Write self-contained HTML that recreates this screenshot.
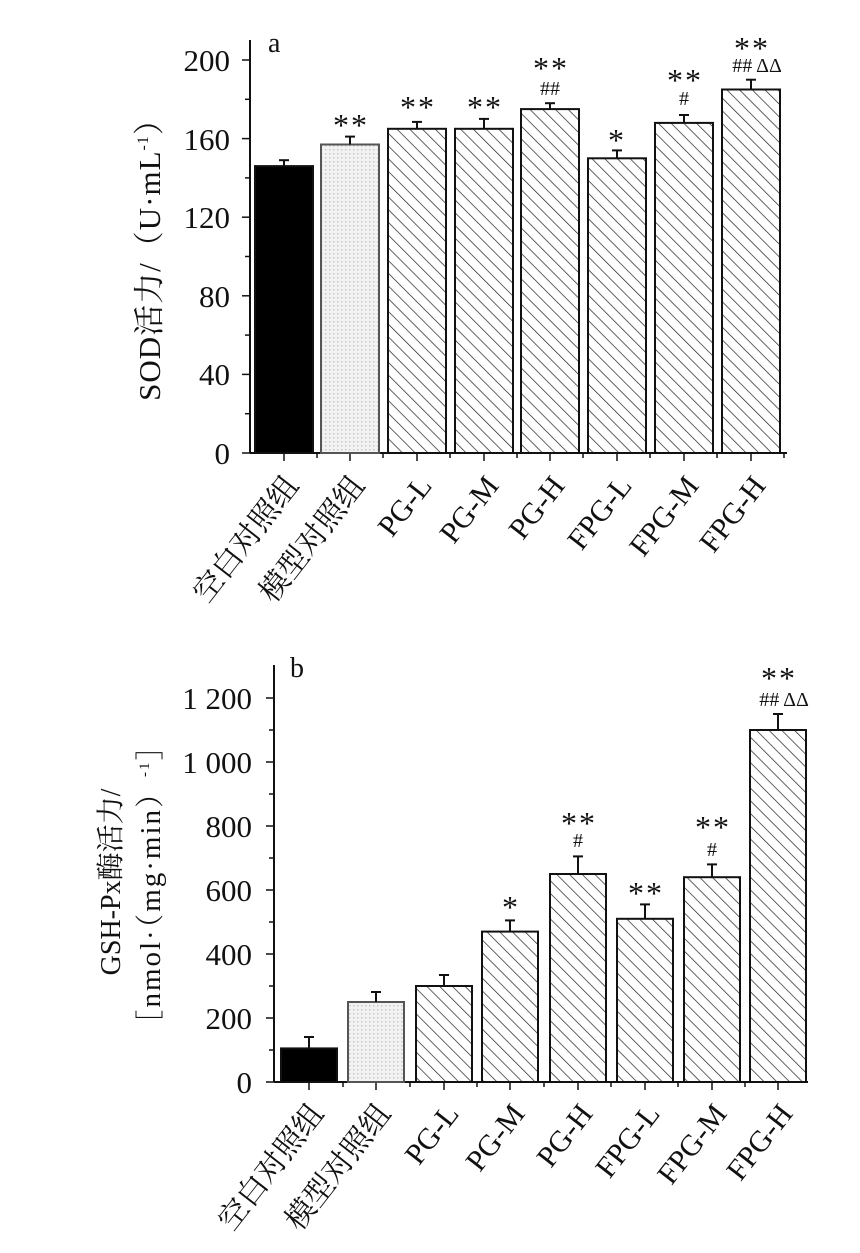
<!DOCTYPE html>
<html><head><meta charset="utf-8"><style>
html,body{margin:0;padding:0;background:#fff;}
svg{display:block;}
text{font-family:"Liberation Serif","Noto Serif CJK SC","Noto Sans CJK SC",serif;fill:#111;}
</style></head><body>
<svg width="860" height="1253" viewBox="0 0 860 1253" xmlns="http://www.w3.org/2000/svg">
<defs>
<pattern id="hatch" width="9" height="9" patternUnits="userSpaceOnUse" patternTransform="rotate(-45)">
<rect width="9" height="9" fill="#fff"/>
<line x1="0" y1="0" x2="0" y2="9" stroke="#222" stroke-width="1.4"/>
</pattern>
<pattern id="dots" width="4" height="4" patternUnits="userSpaceOnUse">
<rect width="4" height="4" fill="#f2f2f2"/>
<rect x="1" y="1" width="1.5" height="1.5" fill="#c8c8c8"/>
</pattern>
</defs>

<!-- ===== Chart a ===== -->
<g stroke="#111" stroke-width="2" fill="none">
<line x1="250" y1="40" x2="250" y2="453"/>
<line x1="250" y1="453" x2="787" y2="453"/>
</g>
<g stroke="#111" stroke-width="1.5">
<line x1="242" y1="453" x2="250" y2="453"/><line x1="242" y1="374.4" x2="250" y2="374.4"/><line x1="242" y1="295.8" x2="250" y2="295.8"/><line x1="242" y1="217.2" x2="250" y2="217.2"/><line x1="242" y1="138.6" x2="250" y2="138.6"/><line x1="242" y1="60" x2="250" y2="60"/>
<line x1="245" y1="413.7" x2="250" y2="413.7"/><line x1="245" y1="335.1" x2="250" y2="335.1"/><line x1="245" y1="256.5" x2="250" y2="256.5"/><line x1="245" y1="177.9" x2="250" y2="177.9"/><line x1="245" y1="99.3" x2="250" y2="99.3"/>
<line x1="284" y1="453" x2="284" y2="461"/><line x1="350" y1="453" x2="350" y2="461"/><line x1="417" y1="453" x2="417" y2="461"/><line x1="484" y1="453" x2="484" y2="461"/><line x1="550" y1="453" x2="550" y2="461"/><line x1="617" y1="453" x2="617" y2="461"/><line x1="684" y1="453" x2="684" y2="461"/><line x1="751" y1="453" x2="751" y2="461"/>
<line x1="317" y1="453" x2="317" y2="458"/><line x1="383" y1="453" x2="383" y2="458"/><line x1="450" y1="453" x2="450" y2="458"/><line x1="517" y1="453" x2="517" y2="458"/><line x1="583" y1="453" x2="583" y2="458"/><line x1="650" y1="453" x2="650" y2="458"/><line x1="717" y1="453" x2="717" y2="458"/><line x1="784" y1="453" x2="784" y2="458"/>
</g>
<g font-size="31" text-anchor="end">
<text x="230" y="464">0</text><text x="230" y="385">40</text><text x="230" y="307">80</text><text x="230" y="228">120</text><text x="230" y="150">160</text><text x="230" y="71">200</text>
</g>
<text x="268" y="52" font-size="28">a</text>
<text transform="translate(160,252) rotate(-90)" font-size="31" text-anchor="middle" letter-spacing="1">SOD活力/（U·mL<tspan font-size="16" dy="-12">-1</tspan><tspan dy="12">）</tspan></text>

<g stroke="#111" stroke-width="2">
<rect x="255" y="166.1" width="58" height="286.9" fill="#000"/>
<rect x="321" y="144.5" width="58" height="308.5" fill="url(#dots)" stroke="#555"/>
<rect x="388" y="128.8" width="58" height="324.2" fill="url(#hatch)"/>
<rect x="455" y="128.8" width="58" height="324.2" fill="url(#hatch)"/>
<rect x="521" y="109.1" width="58" height="343.9" fill="url(#hatch)"/>
<rect x="588" y="158.3" width="58" height="294.7" fill="url(#hatch)"/>
<rect x="655" y="122.9" width="58" height="330.1" fill="url(#hatch)"/>
<rect x="722" y="89.5" width="58" height="363.5" fill="url(#hatch)"/>
</g>
<g stroke="#111" stroke-width="2">
<line x1="284" y1="166" x2="284" y2="160.2"/><line x1="279" y1="160.2" x2="289" y2="160.2"/>
<line x1="350" y1="144.5" x2="350" y2="136.6"/><line x1="345" y1="136.6" x2="355" y2="136.6"/>
<line x1="417" y1="128.8" x2="417" y2="121.9"/><line x1="412" y1="121.9" x2="422" y2="121.9"/>
<line x1="484" y1="128.8" x2="484" y2="118.9"/><line x1="479" y1="118.9" x2="489" y2="118.9"/>
<line x1="550" y1="109.1" x2="550" y2="103.2"/><line x1="545" y1="103.2" x2="555" y2="103.2"/>
<line x1="617" y1="158.3" x2="617" y2="150.4"/><line x1="612" y1="150.4" x2="622" y2="150.4"/>
<line x1="684" y1="122.9" x2="684" y2="115"/><line x1="679" y1="115" x2="689" y2="115"/>
<line x1="751" y1="89.5" x2="751" y2="79.7"/><line x1="746" y1="79.7" x2="756" y2="79.7"/>
</g>
<g font-size="32" text-anchor="middle" letter-spacing="2">
<text x="351" y="136">**</text><text x="418" y="118">**</text><text x="485" y="118">**</text>
<text x="551" y="79">**</text><text x="617" y="151">*</text><text x="685" y="91">**</text><text x="752" y="59">**</text>
</g>
<g font-size="20" text-anchor="middle">
<text x="550" y="95">##</text><text x="684" y="105">#</text><text x="757" y="72">## ΔΔ</text>
</g>
<g font-size="30" text-anchor="end">
<text transform="translate(300,486) rotate(-52)">空白对照组</text>
<text transform="translate(366,486) rotate(-52)">模型对照组</text>
<text transform="translate(433,486) rotate(-52)">PG-L</text>
<text transform="translate(500,486) rotate(-52)">PG-M</text>
<text transform="translate(566,486) rotate(-52)">PG-H</text>
<text transform="translate(633,486) rotate(-52)">FPG-L</text>
<text transform="translate(700,486) rotate(-52)">FPG-M</text>
<text transform="translate(767,486) rotate(-52)">FPG-H</text>
</g>

<!-- ===== Chart b ===== -->
<g stroke="#111" stroke-width="2" fill="none">
<line x1="274" y1="665" x2="274" y2="1082"/>
<line x1="274" y1="1082" x2="808" y2="1082"/>
</g>
<g stroke="#111" stroke-width="1.5">
<line x1="266" y1="1082" x2="274" y2="1082"/><line x1="266" y1="1018" x2="274" y2="1018"/><line x1="266" y1="954" x2="274" y2="954"/><line x1="266" y1="890" x2="274" y2="890"/><line x1="266" y1="826" x2="274" y2="826"/><line x1="266" y1="762" x2="274" y2="762"/><line x1="266" y1="698" x2="274" y2="698"/>
<line x1="269" y1="1050" x2="274" y2="1050"/><line x1="269" y1="986" x2="274" y2="986"/><line x1="269" y1="922" x2="274" y2="922"/><line x1="269" y1="858" x2="274" y2="858"/><line x1="269" y1="794" x2="274" y2="794"/><line x1="269" y1="730" x2="274" y2="730"/>
<line x1="309" y1="1082" x2="309" y2="1090"/><line x1="376" y1="1082" x2="376" y2="1090"/><line x1="444" y1="1082" x2="444" y2="1090"/><line x1="510" y1="1082" x2="510" y2="1090"/><line x1="578" y1="1082" x2="578" y2="1090"/><line x1="645" y1="1082" x2="645" y2="1090"/><line x1="712" y1="1082" x2="712" y2="1090"/><line x1="778" y1="1082" x2="778" y2="1090"/>
<line x1="343" y1="1082" x2="343" y2="1087"/><line x1="410" y1="1082" x2="410" y2="1087"/><line x1="477" y1="1082" x2="477" y2="1087"/><line x1="544" y1="1082" x2="544" y2="1087"/><line x1="611" y1="1082" x2="611" y2="1087"/><line x1="678" y1="1082" x2="678" y2="1087"/><line x1="745" y1="1082" x2="745" y2="1087"/>
</g>
<g font-size="31" text-anchor="end">
<text x="252" y="1093">0</text><text x="252" y="1029">200</text><text x="252" y="965">400</text><text x="252" y="901">600</text><text x="252" y="837">800</text><text x="252" y="773">1 000</text><text x="252" y="709">1 200</text>
</g>
<text x="290" y="677" font-size="28">b</text>
<text transform="translate(120,882) rotate(-90)" font-size="28" text-anchor="middle">GSH-Px酶活力/</text>
<text transform="translate(160,884) rotate(-90)" font-size="29" text-anchor="middle" letter-spacing="2">［nmol·（mg·min）<tspan font-size="15" dy="-11">-1</tspan><tspan dy="11">］</tspan></text>

<g stroke="#111" stroke-width="2">
<rect x="281" y="1048.4" width="56" height="33.6" fill="#000"/>
<rect x="348" y="1002" width="56" height="80" fill="url(#dots)" stroke="#555"/>
<rect x="416" y="986" width="56" height="96" fill="url(#hatch)"/>
<rect x="482" y="931.6" width="56" height="150.4" fill="url(#hatch)"/>
<rect x="550" y="874" width="56" height="208" fill="url(#hatch)"/>
<rect x="617" y="918.8" width="56" height="163.2" fill="url(#hatch)"/>
<rect x="684" y="877.2" width="56" height="204.8" fill="url(#hatch)"/>
<rect x="750" y="730" width="56" height="352" fill="url(#hatch)"/>
</g>
<g stroke="#111" stroke-width="2">
<line x1="309" y1="1048" x2="309" y2="1037"/><line x1="304" y1="1037" x2="314" y2="1037"/>
<line x1="376" y1="1002" x2="376" y2="992"/><line x1="371" y1="992" x2="381" y2="992"/>
<line x1="444" y1="986" x2="444" y2="975"/><line x1="439" y1="975" x2="449" y2="975"/>
<line x1="510" y1="931.6" x2="510" y2="920.4"/><line x1="505" y1="920.4" x2="515" y2="920.4"/>
<line x1="578" y1="874" x2="578" y2="856.4"/><line x1="573" y1="856.4" x2="583" y2="856.4"/>
<line x1="645" y1="918.8" x2="645" y2="904.4"/><line x1="640" y1="904.4" x2="650" y2="904.4"/>
<line x1="712" y1="877.2" x2="712" y2="864.4"/><line x1="707" y1="864.4" x2="717" y2="864.4"/>
<line x1="778" y1="730" x2="778" y2="714"/><line x1="773" y1="714" x2="783" y2="714"/>
</g>
<g font-size="32" text-anchor="middle" letter-spacing="2">
<text x="511" y="918">*</text><text x="579" y="834">**</text><text x="646" y="904">**</text><text x="713" y="838">**</text><text x="779" y="689">**</text>
</g>
<g font-size="20" text-anchor="middle">
<text x="578" y="847">#</text><text x="712" y="856">#</text><text x="784" y="706">## ΔΔ</text>
</g>
<g font-size="30" text-anchor="end">
<text transform="translate(325,1114) rotate(-52)">空白对照组</text>
<text transform="translate(392,1114) rotate(-52)">模型对照组</text>
<text transform="translate(460,1114) rotate(-52)">PG-L</text>
<text transform="translate(526,1114) rotate(-52)">PG-M</text>
<text transform="translate(594,1114) rotate(-52)">PG-H</text>
<text transform="translate(661,1114) rotate(-52)">FPG-L</text>
<text transform="translate(728,1114) rotate(-52)">FPG-M</text>
<text transform="translate(794,1114) rotate(-52)">FPG-H</text>
</g>
</svg>
</body></html>
